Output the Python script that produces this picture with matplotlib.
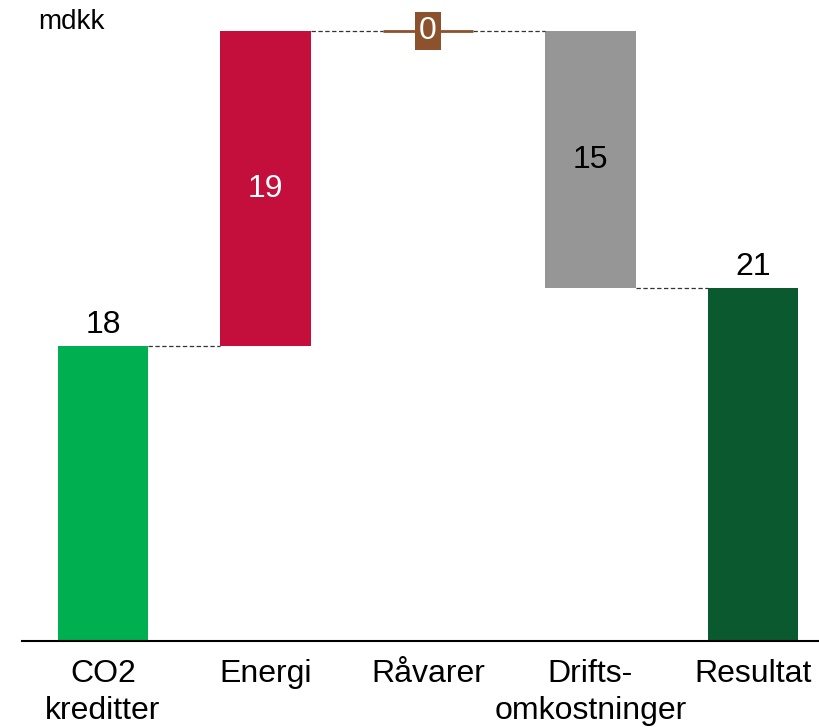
import numpy as np
import matplotlib.pyplot as plt

plt.rcParams['font.family'] = ['Liberation Sans', 'DejaVu Sans']

# Bidrag til resultat (mdkk)
kategorier = ['CO2\nkreditter', 'Energi', 'Råvarer', 'Drifts-\nomkostninger', 'Resultat']
start = 17.8
energi = 19.0
raavarer = 0.0
drift = -15.49
resultat = start + energi + raavarer + drift

farver = ['#00b050', '#c40f3c', '#8b522d', '#969696', '#0b5a2f']

trin = [start, energi, raavarer, drift]
niveau = np.cumsum(trin)
bunde = [0, niveau[0], niveau[1], niveau[3], 0]
hoejder = [start, energi, raavarer, -drift, resultat]

fig = plt.figure(figsize=(8.2, 7.27), dpi=100)
ax = fig.add_axes([22 / 820, 86 / 727, 798 / 820, 631 / 727])

x = np.arange(len(kategorier))
bredde = 0.554
ax.bar(x, hoejder, bredde, bottom=bunde, color=farver, linewidth=0)
# Råvarer er nul: vis som en tynd streg
ax.plot([x[2] - bredde / 2, x[2] + bredde / 2], [niveau[2], niveau[2]],
        color=farver[2], lw=2, zorder=3, solid_capstyle='butt')

# forbindelseslinjer mellem søjlerne
for i in range(4):
    ax.plot([x[i] + bredde / 2, x[i + 1] - bredde / 2], [niveau[i], niveau[i]],
            color='#333333', lw=0.9, ls=(0, (3.5, 2)), zorder=1)

fs = 23
ax.text(x[0], start + 0.35, f'{start:.0f}', ha='center', va='bottom', fontsize=fs)
ax.text(x[1], niveau[0] + energi / 2, f'{energi:.0f}', ha='center', va='center',
        fontsize=fs, color='white')
ax.text(x[2], niveau[2], f'{raavarer:.0f}', ha='center', va='center', fontsize=fs,
        color='white', zorder=4,
        bbox=dict(boxstyle='square,pad=0.12', fc=farver[2], ec='none'))
ax.text(x[3], niveau[3] - drift / 2, f'{-drift:.0f}', ha='center', va='center',
        fontsize=fs)
ax.text(x[4], resultat + 0.35, f'{resultat:.0f}', ha='center', va='bottom', fontsize=fs)

ax.set_xlim(-81 / 162.5, (820 - 103) / 162.5)
ax.set_ylim(0, 631 / 16.57)
ax.set_xticks(x)
ax.set_xticklabels(kategorier, fontsize=fs, linespacing=1.3)
ax.tick_params(axis='x', length=0, pad=13)
ax.set_yticks([])
for s in ['top', 'right', 'left']:
    ax.spines[s].set_visible(False)
ax.spines['bottom'].set_linewidth(1.5)

fig.text(38 / 820, 1 - 22 / 727, 'mdkk', fontsize=20, ha='left', va='center')

fig.savefig('out.png', dpi=100)
